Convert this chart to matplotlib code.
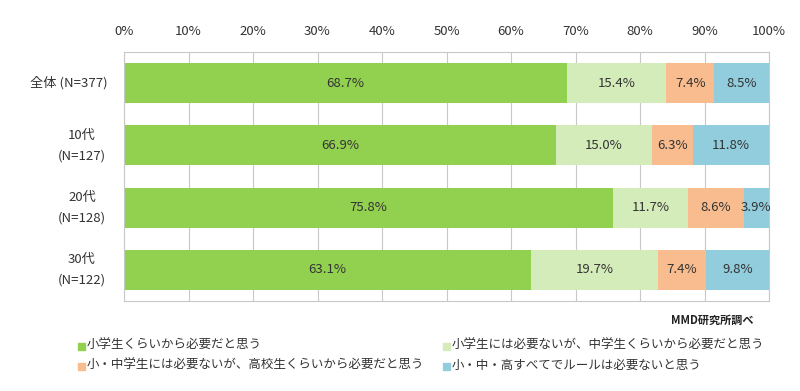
import numpy as np
import matplotlib
matplotlib.use("Agg")
import matplotlib.pyplot as plt
from matplotlib.patches import Rectangle

plt.rcParams["font.family"] = ["Noto Sans CJK JP", "DejaVu Sans"]

# ============================================================
# Dados
# ============================================================

grupos = ["全体 (N=377)", "10代\n(N=127)", "20代\n(N=128)", "30代\n(N=122)"]

series = [
    "小学生くらいから必要だと思う",
    "小学生には必要ないが、中学生くらいから必要だと思う",
    "小・中学生には必要ないが、高校生くらいから必要だと思う",
    "小・中・高すべてでルールは必要ないと思う",
]

primario = [68.7, 66.9, 75.8, 63.1]
secundario = [15.4, 15.0, 11.7, 19.7]
colegial = [7.4, 6.3, 8.6, 7.4]
nenhum = [8.5, 11.8, 3.9, 9.8]

valores = [primario, secundario, colegial, nenhum]
cores = ["#92D050", "#D4EBBA", "#F8BC8E", "#92CDDD"]

ticks_x = np.arange(0, 101, 10)

# ============================================================
# Gráfico
# ============================================================

fig = plt.figure(figsize=(8, 3.91), dpi=100)
ax = fig.add_axes([124 / 800, 1 - 301 / 391, 645 / 800, 249 / 391])

y = np.arange(len(grupos))
esquerda = np.zeros(len(grupos))
for nome, vals, cor in zip(series, valores, cores):
    vals = np.array(vals)
    ax.barh(y, vals, left=esquerda, height=0.64, color=cor, edgecolor="none", zorder=2)
    for yi, l, v in zip(y, esquerda, vals):
        ax.text(l + v / 2, yi, f"{v:.1f}%", ha="center", va="center",
                fontsize=9.5, color="#333333", zorder=3)
    esquerda += vals

ax.set_xlim(0, 100)
ax.set_ylim(len(grupos) - 0.5, -0.5)
ax.set_xticks(ticks_x)
ax.set_xticklabels([f"{t}%" for t in ticks_x], fontsize=9.5, color="#333333")
ax.xaxis.tick_top()
ax.tick_params(axis="x", length=0, pad=10)
ax.set_yticks(y)
ax.set_yticklabels([])
ax.tick_params(axis="y", length=0)

for i, g in enumerate(grupos):
    if "\n" in g:
        ax.text(-6.5, i, g, ha="center", va="center", fontsize=9.5,
                color="#333333", linespacing=1.75, clip_on=False)
    else:
        ax.text(-2.5, i, g, ha="right", va="center", fontsize=9.5,
                color="#333333", clip_on=False)

ax.grid(axis="x", color="#C8C8C8", linewidth=0.8, zorder=0)
for s in ax.spines.values():
    s.set_color("#C8C8C8")
    s.set_linewidth(0.8)

# Fonte
fig.text(753 / 800, 1 - 320 / 391, "MMD研究所調べ", ha="right", va="center",
         fontsize=8, fontweight="bold", color="#222222")

# Legenda
pos_legenda = [(78, 345), (443, 345), (78, 365), (443, 365)]
for (px, py), nome, cor in zip(pos_legenda, series, cores):
    fig.patches.append(Rectangle((px / 800, 1 - (py + 5) / 391), 7 / 800, 7 / 391,
                                 transform=fig.transFigure, color=cor))
    fig.text((px + 9) / 800, 1 - py / 391, nome, ha="left", va="center",
             fontsize=9, color="#333333")

fig.savefig("out.png", dpi=100)
